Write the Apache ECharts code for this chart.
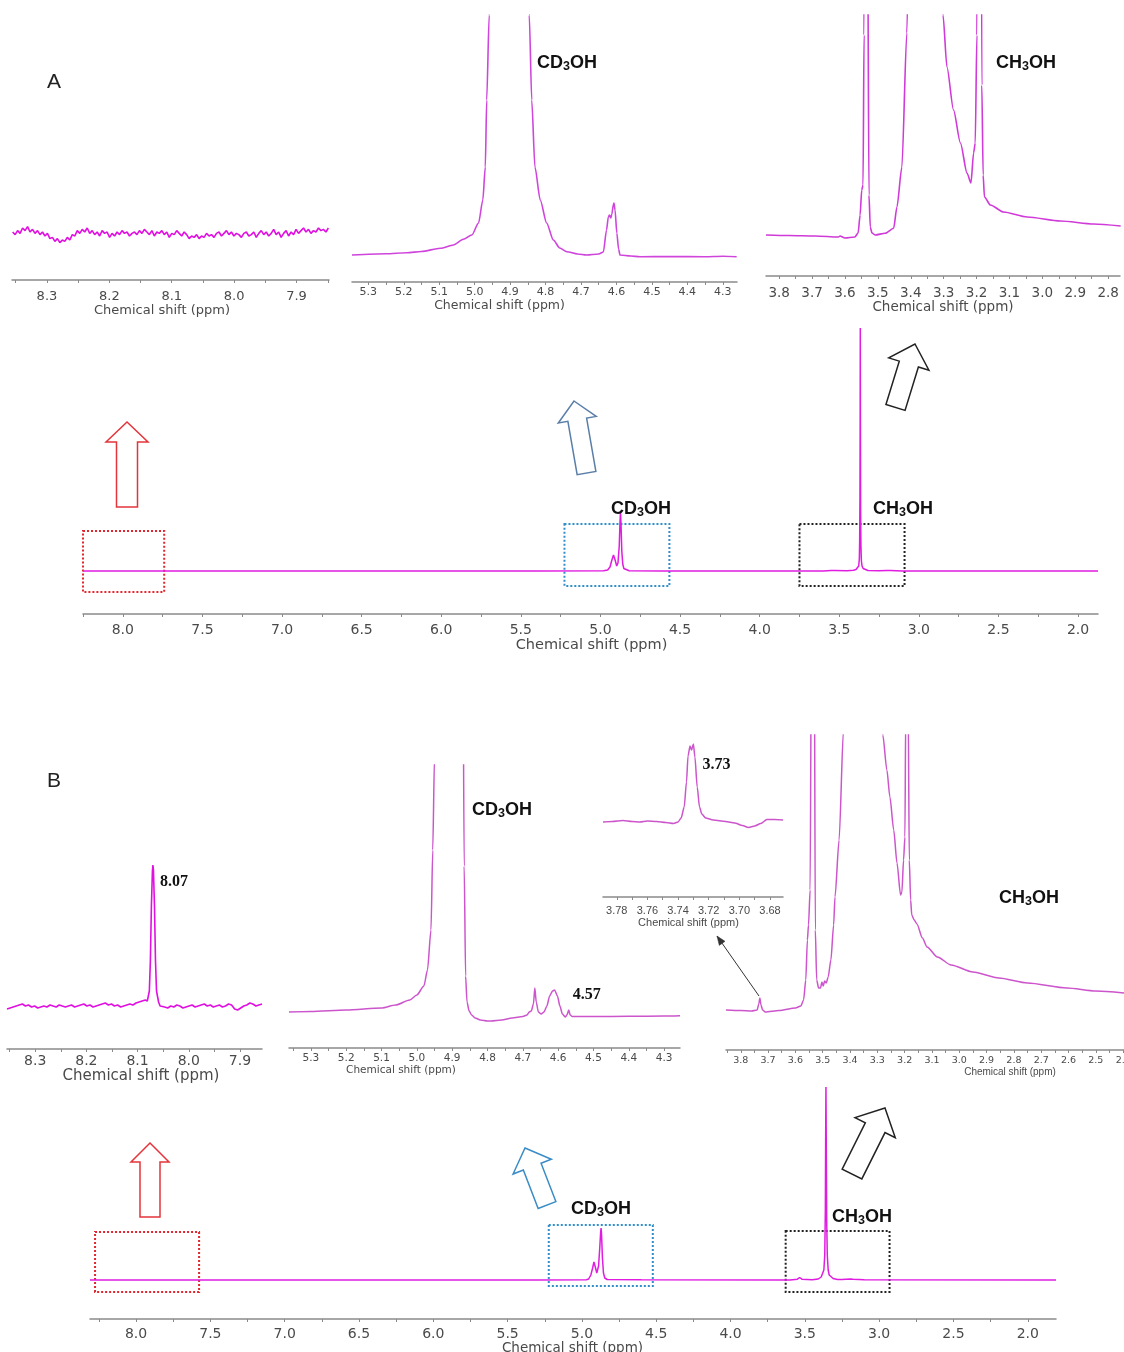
<!DOCTYPE html>
<html>
<head>
<meta charset="utf-8">
<script src="https://cdn.jsdelivr.net/npm/echarts@6/dist/echarts.min.js"></script>
<style>
  html, body { margin: 0; padding: 0; background: #ffffff; }
  #chart { width: 1124px; height: 1352px; }
</style>
</head>
<body>
<div id="chart"></div>
<script>
// ---------------------------------------------------------------
// 1H NMR spectra of methanol (CD3OH / CH3OH), panels A and B.
// Each spectrum is a list of [chemical shift (ppm), intensity (a.u.)].
// ---------------------------------------------------------------

// ---- tick labels (ppm) ----
const labels8  = [8.3, 8.2, 8.1, 8.0, 7.9];
const labels5  = [5.3, 5.2, 5.1, 5.0, 4.9, 4.8, 4.7, 4.6, 4.5, 4.4, 4.3];
const labelsA3 = [3.8, 3.7, 3.6, 3.5, 3.4, 3.3, 3.2, 3.1, 3.0, 2.9, 2.8];
const labelsB3 = [3.78, 3.76, 3.74, 3.72, 3.70, 3.68];
const labelsB4 = [3.8, 3.7, 3.6, 3.5, 3.4, 3.3, 3.2, 3.1, 3.0, 2.9, 2.8, 2.7, 2.6, 2.5, 2.4];
const labelsMain = [8.0, 7.5, 7.0, 6.5, 6.0, 5.5, 5.0, 4.5, 4.0, 3.5, 3.0, 2.5, 2.0];

// ---- panel A ----
// 8.35-7.85 ppm region: baseline noise only (evenly sampled)
const a1Noise = [
  2, 0, 3, 1, 5, 3, 6, 2, 4, 1, 3, 0, 2, -1, 1, -3, -2, -5, -3, -6,
  -4, -5, -2, -4, 0, -1, 3, 1, 4, 2, 5, 1, 3, 0, 2, -1, 3, 1, 2, -2,
  1, -1, 2, 0, 3, 1, 2, -1, 1, 2, 0, 3, 1, 4, 2, 0, 3, -1, 2, 1,
  3, 0, 2, -2, 1, 0, 3, 1, -1, 2, 0, -3, -1, -2, 0, -3, -1, -2, 1, -1,
  0, -2, 1, 2, -1, 1, 3, 0, 2, -1, 1, 0, -2, 1, 2, -1, 0, 2, -2, 1,
  3, 0, 2, -1, 1, 4, 0, 2, -2, 1, 3, -1, 2, 0, 4, 1, 3, 5, 2, 4,
  1, 3, 2, 5, 3, 4, 2, 5
];
const a1Range = [8.355, 7.849];

// 5.35-4.26 ppm region (CD3OH)
const a2Spec = [
  [5.346, 0], [5.25, 1.3], [5.191, 2.3], [5.15, 3.5], [5.097, 6.7], [5.06, 10], [5.032, 15.7],
  [5.008, 20], [4.989, 32], [4.977, 55], [4.970, 88], [4.966, 155], [4.959, 240], [4.95, 500],
  [4.90, 2000], [4.86, 500], [4.846, 240], [4.839, 155], [4.830, 88], [4.815, 55], [4.797, 32],
  [4.778, 15], [4.76, 7], [4.74, 3.3], [4.71, 1], [4.684, 0], [4.65, 1], [4.637, 3], [4.628, 25],
  [4.623, 38], [4.620, 40], [4.616, 37], [4.613, 41], [4.609, 50], [4.607, 52], [4.604, 45],
  [4.599, 22], [4.594, 6], [4.59, 0], [4.56, -1], [4.534, -1.7], [4.45, -1.5], [4.35, -1.7],
  [4.30, -1.2], [4.261, -1.7]
];

// 3.84-2.76 ppm region (CH3OH)
const a3Spec = [
  [3.84, 0], [3.77, -0.5], [3.69, -1], [3.62, -2], [3.615, -1], [3.60, -3], [3.57, -2], [3.56, 2],
  [3.554, 20], [3.549, 45], [3.545, 50], [3.542, 200], [3.540, 700], [3.535, 800], [3.531, 300],
  [3.527, 40], [3.523, 8], [3.518, 2], [3.508, 0], [3.478, 1.7], [3.452, 6.7], [3.442, 28],
  [3.427, 68], [3.412, 202], [3.40, 400], [3.35, 1200], [3.31, 350], [3.302, 220], [3.29, 168],
  [3.27, 125], [3.249, 92], [3.229, 62], [3.217, 52], [3.209, 82], [3.204, 92], [3.199, 200],
  [3.195, 700], [3.188, 700], [3.184, 150], [3.180, 60], [3.176, 38], [3.158, 30], [3.118, 23],
  [3.046, 18], [2.945, 14], [2.844, 11], [2.762, 9]
];

// full spectrum A
const aMainSpec = [
  [8.25, 0], [5.40, 0], [4.98, 0.3], [4.955, 1], [4.94, 4], [4.93, 10], [4.918, 16], [4.908, 11],
  [4.898, 5], [4.890, 8], [4.882, 25], [4.877, 50], [4.874, 59], [4.871, 48], [4.866, 20],
  [4.860, 7], [4.853, 2.5], [4.845, 1], [4.82, 0.3], [4.60, 0], [3.60, 0], [3.55, 0.6], [3.54, 1.8],
  [3.53, 0.6], [3.45, 0.3], [3.41, 0.8], [3.395, 1.5], [3.385, 2.5], [3.378, 5], [3.374, 12],
  [3.372, 30], [3.370, 74], [3.3688, 150], [3.368, 243], [3.3672, 150], [3.366, 60], [3.364, 25],
  [3.361, 10], [3.357, 5], [3.35, 2.5], [3.34, 1.2], [3.32, 0.5], [3.25, 0.3], [3.20, 0.6],
  [3.19, 1.8], [3.18, 0.6], [3.10, 0], [1.875, 0]
];
// zoomed regions marked on spectrum A: [from ppm, to ppm, top, bottom]
const aZoomBoxes = [[8.25, 7.74, 40, -21], [5.226, 4.567, 47, -15], [3.75, 3.09, 47, -15]];

// ---- panel B ----
const b1NoiseLeft = [
  -3, -2, -1, 0, 1, 2, 0, 1, -1, 0, -2, -1, 0, -1, 1, 0, -1, 1, 0, -1,
  0, 1, -1, 0, 1, 2, 0, 1, -1, 0, 1, 2, 3, 1, 2, 0, 1, -1, 0, 1,
  2, 1, 3, 4, 5, 6
];
const b1NoiseLeftRange = [8.355, 8.085];
const b1Peak = [
  [8.081, 5], [8.077, 15], [8.075, 45], [8.073, 100], [8.071, 135], [8.070, 141], [8.069, 136],
  [8.067, 100], [8.065, 45], [8.063, 15], [8.059, 4], [8.056, 0]
];
const b1NoiseRight = [
  0, -1, -2, 0, -1, 1, 0, -2, -1, 0, 1, -1, 0, 1, 2, 0, 1, -1, 0, 1,
  -1, 0, 2, 1, -3, -4, -2, 0, 1, 3, 2, 0, 1, 2
];
const b1NoiseRightRange = [8.053, 7.857];
const b1PeakShift = 8.07;

const b2Spec = [
  [5.362, 4], [5.30, 4.5], [5.20, 6], [5.10, 8], [5.06, 11], [5.02, 16], [5.00, 21], [4.98, 30],
  [4.97, 46], [4.96, 86], [4.955, 166], [4.950, 260], [4.94, 600], [4.91, 1500], [4.90, 1800],
  [4.88, 1200], [4.870, 400], [4.866, 150], [4.862, 40], [4.858, 14], [4.852, 5], [4.845, 1],
  [4.835, -2], [4.82, -4], [4.80, -5], [4.79, -5], [4.76, -4], [4.73, -2], [4.70, -0.5],
  [4.688, 1], [4.682, 4], [4.676, 5], [4.670, 12], [4.666, 28], [4.662, 14], [4.656, 4],
  [4.648, 2], [4.640, 4], [4.632, 10], [4.624, 20], [4.616, 25], [4.610, 26], [4.602, 20],
  [4.595, 10], [4.588, 2], [4.580, -1], [4.575, 1], [4.570, 6], [4.566, 1], [4.560, -0.5],
  [4.50, -0.5], [4.40, -0.3], [4.30, 0], [4.255, 0.3]
];
const b2PeakShift = 4.57;

const b3Spec = [
  [3.789, 0], [3.783, 0.5], [3.776, 1.5], [3.770, 0.5], [3.765, 0], [3.760, 1], [3.754, 0.5],
  [3.748, -0.5], [3.743, -1.5], [3.740, 0], [3.738, 4], [3.736, 15], [3.7345, 40], [3.7335, 66],
  [3.7322, 76], [3.7312, 72], [3.7300, 78], [3.7290, 65], [3.7275, 35], [3.7260, 15],
  [3.7245, 8], [3.722, 4], [3.717, 2], [3.709, 0.5], [3.703, -1], [3.698, -3.5], [3.694, -5.5],
  [3.690, -4], [3.686, -1.5], [3.682, 2.5], [3.677, 2.5], [3.6715, 2]
];
const b3PeakShift = 3.73;

const b4Spec = [
  [3.854, 0], [3.80, -0.5], [3.76, -1], [3.740, 0], [3.734, 6], [3.730, 12], [3.726, 5],
  [3.720, 0], [3.71, -2], [3.66, -0.5], [3.60, 2], [3.58, 4], [3.57, 10], [3.562, 30],
  [3.556, 70], [3.552, 85], [3.546, 120], [3.541, 400], [3.536, 800], [3.531, 400], [3.527, 80],
  [3.522, 30], [3.515, 22], [3.508, 22], [3.503, 28], [3.498, 24], [3.493, 29], [3.487, 27],
  [3.48, 33], [3.47, 50], [3.46, 85], [3.455, 113], [3.44, 170], [3.424, 280], [3.40, 600],
  [3.36, 1500], [3.30, 500], [3.28, 275], [3.265, 240], [3.254, 213], [3.24, 180], [3.228, 147],
  [3.215, 115], [3.210, 118], [3.204, 150], [3.199, 173], [3.196, 300], [3.192, 900],
  [3.187, 300], [3.183, 150], [3.178, 110], [3.174, 95], [3.165, 90], [3.155, 86], [3.135, 72],
  [3.118, 63], [3.08, 53], [3.03, 45], [2.95, 38], [2.855, 32], [2.75, 27], [2.606, 22],
  [2.5, 19], [2.397, 17]
];

const bMainSpec = [
  [8.31, 0], [5.30, 0], [4.97, 0.3], [4.955, 1], [4.94, 5], [4.928, 12], [4.919, 18], [4.910, 13],
  [4.900, 7], [4.895, 7], [4.888, 14], [4.880, 32], [4.874, 48], [4.871, 52], [4.868, 46],
  [4.862, 22], [4.855, 7], [4.846, 2], [4.83, 0.5], [4.60, 0.3], [3.60, 0], [3.55, 0.8],
  [3.535, 2.5], [3.52, 0.8], [3.45, 0.3], [3.41, 1], [3.40, 2], [3.39, 3], [3.38, 5], [3.372, 10],
  [3.366, 25], [3.362, 70], [3.360, 140], [3.358, 193], [3.356, 140], [3.353, 60], [3.349, 25],
  [3.343, 10], [3.336, 5], [3.326, 3], [3.31, 1.5], [3.28, 0.6], [3.25, 0.5], [3.195, 1],
  [3.185, 2], [3.175, 0.8], [3.10, 0.2], [1.81, 0]
];
const bZoomBoxes = [[8.276, 7.576, 48, -12], [5.223, 4.523, 55, -6], [3.629, 2.93, 49, -12]];

// ---------------------------------------------------------------
// helpers
// ---------------------------------------------------------------
function spread(vals, from, to) {
  const n = vals.length;
  return vals.map((v, i) => [from + (to - from) * i / (n - 1), v]);
}
function ticks(from, to, step) {
  const out = [];
  const n = Math.round((to - from) / step);
  for (let i = 0; i <= n; i++) out.push(+(from + i * step).toFixed(4));
  return out;
}
function boxArea(boxes, colors) {
  return boxes.map((b, i) => [
    { xAxis: b[0], yAxis: b[2], itemStyle: { color: 'rgba(0,0,0,0)', borderColor: colors[i], borderWidth: 2, borderType: 'dotted' } },
    { xAxis: b[1], yAxis: b[3] }
  ]);
}
function peakLabel(shift, value, pos) {
  return {
    symbol: 'circle', symbolSize: 0, silent: true, animation: false,
    data: [{
      coord: [shift, value],
      label: {
        show: true, formatter: shift.toFixed(2), position: pos, align: 'left', verticalAlign: 'middle',
        fontFamily: 'Liberation Serif', fontWeight: 'bold', fontSize: 16, color: '#111'
      }
    }]
  };
}

const b1Data = spread(b1NoiseLeft, b1NoiseLeftRange[0], b1NoiseLeftRange[1])
  .concat(b1Peak, spread(b1NoiseRight, b1NoiseRightRange[0], b1NoiseRightRange[1]));
const b1Top = Math.max(...b1Peak.map(p => p[1]));
const b2Top = b2Spec.find(p => p[0] === b2PeakShift)[1];
const b3Top = b3Spec.find(p => p[0] === b3PeakShift)[1];

// ---------------------------------------------------------------
// panel layout: box = [left, top, right, axis line y]
// ---------------------------------------------------------------
const MAG = '#e01ce0';
const SMOOTH = { smooth: 0.25, smoothMonotone: 'x' };
const panels = [
  { box: [12, 200, 329, 280], y: [-34, 26], x: [7.848, 8.356], labels: labels8, ticks: ticks(7.85, 8.35, 0.05), dec: 1,
    lab: { size: 13, fam: 'DejaVu Sans', margin: 10 }, nm: { size: 13, fam: 'DejaVu Sans', gap: 21, shift: -8.5 },
    color: '#e010e0', width: 1.6, data: spread(a1Noise, a1Range[0], a1Range[1]) },
  { box: [352, 15, 737, 282], y: [-27, 240], x: [4.26, 5.346], labels: labels5, ticks: ticks(4.3, 5.3, 0.05), dec: 1,
    lab: { size: 11, fam: 'DejaVu Sans', margin: 5 }, nm: { size: 12.5, fam: 'DejaVu Sans', gap: 11, shift: -45 },
    color: '#cf45dc', width: 1.6, data: a2Spec, extra: SMOOTH },
  { box: [766, 15, 1120, 276], y: [-41, 220], x: [2.764, 3.84], labels: labelsA3, ticks: ticks(2.8, 3.8, 0.05), dec: 1,
    lab: { size: 13.5, fam: 'DejaVu Sans', margin: 10 }, nm: { size: 13.5, fam: 'DejaVu Sans', gap: 21, shift: 0 },
    color: '#d03ad8', width: 1.6, data: a3Spec, extra: SMOOTH },
  { box: [83, 320, 1098, 614], y: [-43, 251], x: [1.875, 8.25], labels: labelsMain, ticks: ticks(2.0, 8.25, 0.25), dec: 1,
    lab: { size: 14, fam: 'DejaVu Sans', margin: 9 }, nm: { size: 14.5, fam: 'DejaVu Sans', gap: 20, shift: 1 },
    color: MAG, width: 1.5, data: aMainSpec,
    extra: { markArea: { silent: true, data: boxArea(aZoomBoxes, ['#e3262d', '#2f8fc9', '#222222']) } } },
  { box: [7, 850, 262, 1049], y: [-43, 156], x: [7.857, 8.355], labels: labels8, ticks: ticks(7.9, 8.35, 0.05), dec: 1,
    lab: { size: 14, fam: 'DejaVu Sans', margin: 5 }, nm: { size: 15, fam: 'DejaVu Sans', gap: 15, shift: 6.5 },
    color: '#e010e0', width: 1.6, data: b1Data,
    extra: { markPoint: peakLabel(b1PeakShift, b1Top, [7, 17]) } },
  { box: [289, 765, 680, 1048], y: [-32, 251], x: [4.255, 5.362], labels: labels5, ticks: ticks(4.3, 5.35, 0.05), dec: 1,
    lab: { size: 10.5, fam: 'DejaVu Sans', margin: 5 }, nm: { size: 10.5, fam: 'DejaVu Sans', gap: 13, shift: -83.5 },
    color: '#cc55cc', width: 1.5, data: b2Spec,
    extra: Object.assign({ markPoint: peakLabel(b2PeakShift, b2Top, [4, -15]) }, SMOOTH) },
  { box: [603, 740, 783, 897], y: [-75, 82], x: [3.6715, 3.789], labels: labelsB3, ticks: ticks(3.68, 3.78, 0.01), dec: 2,
    lab: { size: 11, fam: 'Liberation Sans', margin: 8 }, nm: { size: 11, fam: 'Liberation Sans', gap: 20, shift: -4.5 },
    color: '#cc55cc', width: 1.5, data: b3Spec,
    extra: Object.assign({ markPoint: peakLabel(b3PeakShift, b3Top, [9, 21]) }, SMOOTH) },
  { box: [726, 735, 1124, 1050], y: [-40, 275], x: [2.397, 3.854], labels: labelsB4, ticks: ticks(2.4, 3.85, 0.05), dec: 1,
    lab: { size: 9.5, fam: 'DejaVu Sans', margin: 6 }, nm: { size: 10, fam: 'Liberation Sans', gap: 15, shift: 85 },
    color: '#cc55cc', width: 1.5, data: b4Spec, extra: SMOOTH },
  { box: [90, 1080, 1056, 1319], y: [-39, 200], x: [1.81, 8.31], labels: labelsMain, ticks: ticks(2.0, 8.25, 0.25), dec: 1,
    lab: { size: 14, fam: 'DejaVu Sans', margin: 8 }, nm: { size: 13.5, fam: 'DejaVu Sans', gap: 14.5, shift: -0.5 },
    color: MAG, width: 1.5, data: bMainSpec,
    extra: { markArea: { silent: true, data: boxArea(bZoomBoxes, ['#e3262d', '#2f8fc9', '#222222']) } } }
];

const option = {
  animation: false,
  backgroundColor: '#ffffff',
  grid: [], xAxis: [], yAxis: [], series: [], graphic: []
};

panels.forEach((p, i) => {
  const [x0, y0, x1, y1] = p.box;
  option.grid.push({ left: x0, top: y0, width: x1 - x0, height: y1 - y0, containLabel: false, outerBoundsMode: 'none' });
  const s = p.nm.shift;
  option.xAxis.push({
    gridIndex: i, type: 'value', inverse: true, min: p.x[0], max: p.x[1],
    axisLine: { show: true, onZero: false, lineStyle: { color: '#8a8a8a', width: 1.5 } },
    axisTick: { show: true, customValues: p.ticks, length: 3, inside: false, lineStyle: { color: '#8a8a8a', width: 1 } },
    splitLine: { show: false },
    axisLabel: {
      customValues: p.labels, formatter: v => v.toFixed(p.dec), hideOverlap: false,
      fontFamily: p.lab.fam, fontSize: p.lab.size, color: '#4a4a4a', margin: p.lab.margin
    },
    name: 'Chemical shift (ppm)', nameLocation: 'middle', nameGap: p.nm.gap,
    nameTextStyle: {
      fontFamily: p.nm.fam, fontSize: p.nm.size, color: '#4a4a4a',
      padding: s < 0 ? [0, -2 * s, 0, 0] : [0, 0, 0, 2 * s]
    }
  });
  option.yAxis.push({ gridIndex: i, type: 'value', min: p.y[0], max: p.y[1], show: false });
  option.series.push(Object.assign({
    type: 'line', xAxisIndex: i, yAxisIndex: i, data: p.data,
    showSymbol: false, symbol: 'none', clip: true, silent: true,
    lineStyle: { color: p.color, width: p.width }
  }, p.extra || {}));
});

// ---- outline arrows pointing from each boxed region to its expanded view ----
function arrowPts(tip, tail, h, hw, sw) {
  const dx = tip[0] - tail[0], dy = tip[1] - tail[1], L = Math.hypot(dx, dy);
  const ux = dx / L, uy = dy / L, nx = -uy, ny = ux;
  const bx = tip[0] - ux * h, by = tip[1] - uy * h;
  const P = (cx, cy, w) => [cx + nx * w / 2, cy + ny * w / 2];
  const Q = (cx, cy, w) => [cx - nx * w / 2, cy - ny * w / 2];
  return [tip, P(bx, by, hw), P(bx, by, sw), P(tail[0], tail[1], sw), Q(tail[0], tail[1], sw), Q(bx, by, sw), Q(bx, by, hw)];
}
const arrows = [
  { tip: [127, 422], tail: [127, 507], h: 20, hw: 42, sw: 21, c: '#e3343a' },
  { tip: [574, 401], tail: [586.5, 473], h: 19, hw: 38.5, sw: 19, c: '#5a7ea8' },
  { tip: [915, 344], tail: [895.5, 407.5], h: 21, hw: 42, sw: 20, c: '#222222' },
  { tip: [150, 1143], tail: [150, 1217], h: 19, hw: 38, sw: 20, c: '#e3343a' },
  { tip: [525, 1148], tail: [547, 1205], h: 20, hw: 41, sw: 19, c: '#3a8cc6' },
  { tip: [885, 1108], tail: [852, 1174], h: 22, hw: 45, sw: 22, c: '#222222' }
];
arrows.forEach(a => option.graphic.push({
  type: 'polygon', silent: true, z: 10,
  shape: { points: arrowPts(a.tip, a.tail, a.h, a.hw, a.sw) },
  style: { fill: '#ffffff', stroke: a.c, lineWidth: 1.5 }
}));

// thin pointer from the 3.73 ppm signal to its enlarged view
(function () {
  const tail = [759, 996], tip = [717, 936];
  const head = arrowPts(tip, tail, 9, 7, 0);
  option.graphic.push({ type: 'line', silent: true, z: 10,
    shape: { x1: tail[0], y1: tail[1], x2: tip[0], y2: tip[1] }, style: { stroke: '#333', lineWidth: 1 } });
  option.graphic.push({ type: 'polygon', silent: true, z: 10,
    shape: { points: [head[0], head[1], head[6]] },
    style: { fill: '#333', stroke: '#333', lineWidth: 0.5 } });
})();

// ---- panel letters ----
[['A', 54, 82], ['B', 54, 781]].forEach(t => option.graphic.push({
  type: 'text', silent: true, z: 10,
  style: { text: t[0], x: t[1], y: t[2], align: 'center', verticalAlign: 'middle', textAlign: 'center', textVerticalAlign: 'middle',
    fontFamily: 'Liberation Sans', fontSize: 21, fill: '#222' }
}));

// ---- compound labels with subscript 3 ----
function chem(prefix, x, y) {
  return {
    type: 'text', silent: true, z: 10,
    style: {
      text: '{m|' + prefix + '}{s|3}{m|OH}', x: x, y: y,
      align: 'center', verticalAlign: 'middle', textAlign: 'center', textVerticalAlign: 'middle',
      rich: {
        m: { fontFamily: 'Liberation Sans', fontWeight: 'bold', fontSize: 18, lineHeight: 20, fill: '#111' },
        s: { fontFamily: 'Liberation Sans', fontWeight: 'bold', fontSize: 12.5, lineHeight: 4, verticalAlign: 'bottom', fill: '#111' }
      }
    }
  };
}
option.graphic.push(
  chem('CD', 567, 63), chem('CH', 1026, 63),
  chem('CD', 641, 509), chem('CH', 903, 509),
  chem('CD', 502, 810), chem('CH', 1029, 898),
  chem('CD', 601, 1209), chem('CH', 862, 1217)
);

const chart = echarts.init(document.getElementById('chart'), null, { renderer: 'canvas' });
chart.setOption(option);
</script>
</body>
</html>
